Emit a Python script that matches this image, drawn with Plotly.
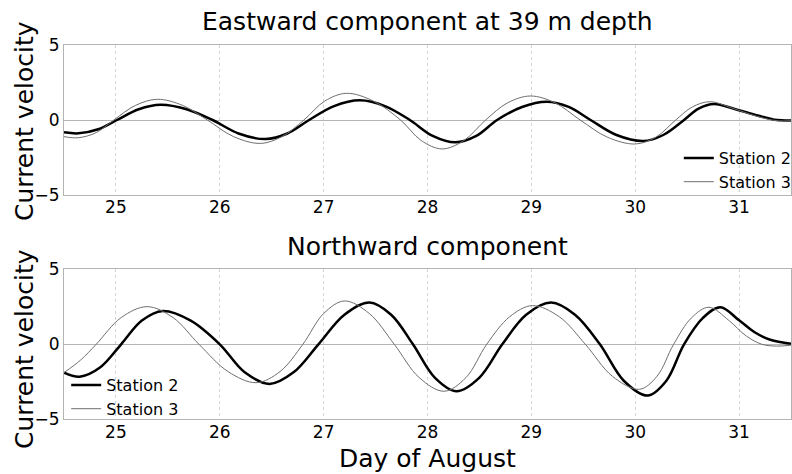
import plotly.graph_objects as go

# ---------------- data ----------------
east_s2_day = [24.5, 24.64, 24.83, 25.01, 25.22, 25.43, 25.68, 25.93, 26.18, 26.44, 26.65, 26.86,
               27.1, 27.35, 27.59, 27.83, 28.05, 28.27, 28.47, 28.67, 28.91, 29.15, 29.36, 29.57,
               29.82, 30.08, 30.27, 30.47, 30.61, 30.76, 30.95, 31.1, 31.22, 31.34, 31.5]
east_s2_val = [-0.82, -0.89, -0.62, 0.0, 0.72, 1.02, 0.72, 0.0, -0.9, -1.27, -0.9, 0.0,
               0.93, 1.31, 0.93, 0.0, -1.06, -1.49, -1.06, 0.0, 0.87, 1.22, 0.87, 0.0,
               -1.0, -1.4, -1.0, 0.0, 0.76, 1.07, 0.75, 0.45, 0.22, 0.02, -0.04]

east_s3_day = [24.5, 24.64, 24.81, 24.98, 25.19, 25.4, 25.64, 25.88, 26.13, 26.39, 26.6, 26.81,
               27.01, 27.22, 27.48, 27.74, 27.94, 28.14, 28.35, 28.56, 28.77, 28.99, 29.23, 29.47,
               29.73, 30.0, 30.2, 30.39, 30.55, 30.72, 30.93, 31.1, 31.25, 31.38, 31.5]
east_s3_val = [-1.11, -1.18, -0.84, 0.0, 0.98, 1.38, 0.98, 0.0, -1.1, -1.56, -1.1, 0.0,
               1.26, 1.78, 1.26, 0.0, -1.37, -1.93, -1.37, 0.0, 1.14, 1.6, 1.14, 0.0,
               -1.14, -1.6, -1.14, 0.0, 0.87, 1.22, 0.8, 0.4, 0.1, -0.06, -0.05]

north_s2_day = [24.5, 24.65, 24.85, 25.05, 25.25, 25.45, 25.72, 26.0, 26.24, 26.48, 26.71, 26.95,
                27.2, 27.44, 27.65, 27.86, 28.07, 28.28, 28.5, 28.72, 28.95, 29.19, 29.42, 29.66,
                29.89, 30.12, 30.3, 30.47, 30.65, 30.82, 31.0, 31.15, 31.3, 31.5]
north_s2_val = [-1.89, -2.16, -1.53, 0.0, 1.58, 2.22, 1.58, 0.0, -1.87, -2.64, -1.87, 0.0,
                1.97, 2.78, 1.97, 0.0, -2.22, -3.13, -2.22, 0.0, 1.97, 2.78, 1.97, 0.0,
                -2.43, -3.42, -2.43, 0.0, 1.75, 2.47, 1.6, 0.8, 0.3, 0.03]

north_s3_day = [24.5, 24.66, 24.81, 25.05, 25.3, 25.55, 25.8, 26.08, 26.35, 26.58, 26.8,
                27.0, 27.2, 27.44, 27.68, 27.92, 28.16, 28.37, 28.57, 28.79, 29.01, 29.27, 29.52,
                29.78, 30.04, 30.21, 30.37, 30.54, 30.71, 30.9, 31.07, 31.22, 31.36, 31.5]
north_s3_val = [-1.89, -1.05, 0.0, 1.78, 2.51, 1.78, 0.0, -1.82, -2.56, -1.82, 0.0,
                2.05, 2.89, 2.05, 0.0, -2.22, -3.13, -2.22, 0.0, 1.83, 2.58, 1.83, 0.0,
                -2.13, -3.0, -2.13, 0.0, 1.75, 2.47, 1.6, 0.55, 0.0, -0.12, -0.06]

x_ticks = [25, 26, 27, 28, 29, 30, 31]
y_ticks = [-5, 0, 5]
station_names = ["Station 2", "Station 3"]

FONT = "DejaVu Sans"
W, H = 792, 474

fig = go.Figure()

def add_pair(xa, ya, legend, d2, v2, d3, v3):
    fig.add_trace(go.Scatter(x=d2, y=v2, mode="lines", name=station_names[0],
                             line=dict(color="black", width=2.5, shape="spline", smoothing=1.0),
                             xaxis=xa, yaxis=ya, legend=legend, showlegend=True))
    fig.add_trace(go.Scatter(x=d3, y=v3, mode="lines", name=station_names[1],
                             line=dict(color="#6e6e6e", width=1, shape="spline", smoothing=1.0),
                             xaxis=xa, yaxis=ya, legend=legend, showlegend=True))

add_pair("x", "y", "legend", east_s2_day, east_s2_val, east_s3_day, east_s3_val)
add_pair("x2", "y2", "legend2", north_s2_day, north_s2_val, north_s3_day, north_s3_val)

def py(px):
    return 1 - px / H

xcommon = dict(range=[24.5, 31.5], tickvals=x_ticks, showgrid=True, gridcolor="#d4d4d4",
               griddash="dot", gridwidth=1, showline=True, mirror=True, linecolor="#b4b4b4",
               linewidth=1, zeroline=False, ticks="", ticklabelstandoff=-3,
               tickfont=dict(family=FONT, size=17, color="black"),
               domain=[0, 1])
ycommon = dict(range=[-5, 5], tickvals=y_ticks, showgrid=True, gridcolor="#b4b4b4", gridwidth=1,
               showline=True, mirror=True, linecolor="#b4b4b4", linewidth=1, zeroline=False,
               ticks="", tickfont=dict(family=FONT, size=17, color="black"))

fig.update_layout(
    width=W, height=H,
    margin=dict(l=64, r=1, t=0, b=0, autoexpand=False),
    paper_bgcolor="white", plot_bgcolor="white",
    font=dict(family=FONT, color="black"),
    xaxis=dict(**xcommon, anchor="y"),
    yaxis=dict(**ycommon, domain=[py(195), py(45)], anchor="x"),
    xaxis2=dict(**xcommon, anchor="y2"),
    yaxis2=dict(**ycommon, domain=[py(419.3), py(269.3)], anchor="x2"),
    legend=dict(x=1.008, xanchor="right", y=py(141), yanchor="top", bgcolor="rgba(0,0,0,0)",
                borderwidth=0, font=dict(family=FONT, size=16), tracegroupgap=0,
                itemwidth=30),
    legend2=dict(x=0.003, xanchor="left", y=py(368), yanchor="top", bgcolor="rgba(0,0,0,0)",
                 borderwidth=0, font=dict(family=FONT, size=16), tracegroupgap=0,
                 itemwidth=30),
    annotations=[
        dict(text="Eastward component at 39 m depth", x=0.5, xref="paper", y=py(22), yref="paper",
             xanchor="center", yanchor="middle", showarrow=False, font=dict(family=FONT, size=25)),
        dict(text="Northward component", x=0.5, xref="paper", y=py(247), yref="paper",
             xanchor="center", yanchor="middle", showarrow=False, font=dict(family=FONT, size=25)),
        dict(text="Day of August", x=0.5, xref="paper", y=py(458), yref="paper",
             xanchor="center", yanchor="middle", showarrow=False, font=dict(family=FONT, size=25)),
        dict(text="Current velocity", x=(24 - 64) / 727, xref="paper", y=py(121), yref="paper",
             xanchor="center", yanchor="middle", textangle=-90, showarrow=False,
             font=dict(family=FONT, size=25)),
        dict(text="Current velocity", x=(24 - 64) / 727, xref="paper", y=py(349), yref="paper",
             xanchor="center", yanchor="middle", textangle=-90, showarrow=False,
             font=dict(family=FONT, size=25)),
    ],
)

fig.write_html("out.html")
